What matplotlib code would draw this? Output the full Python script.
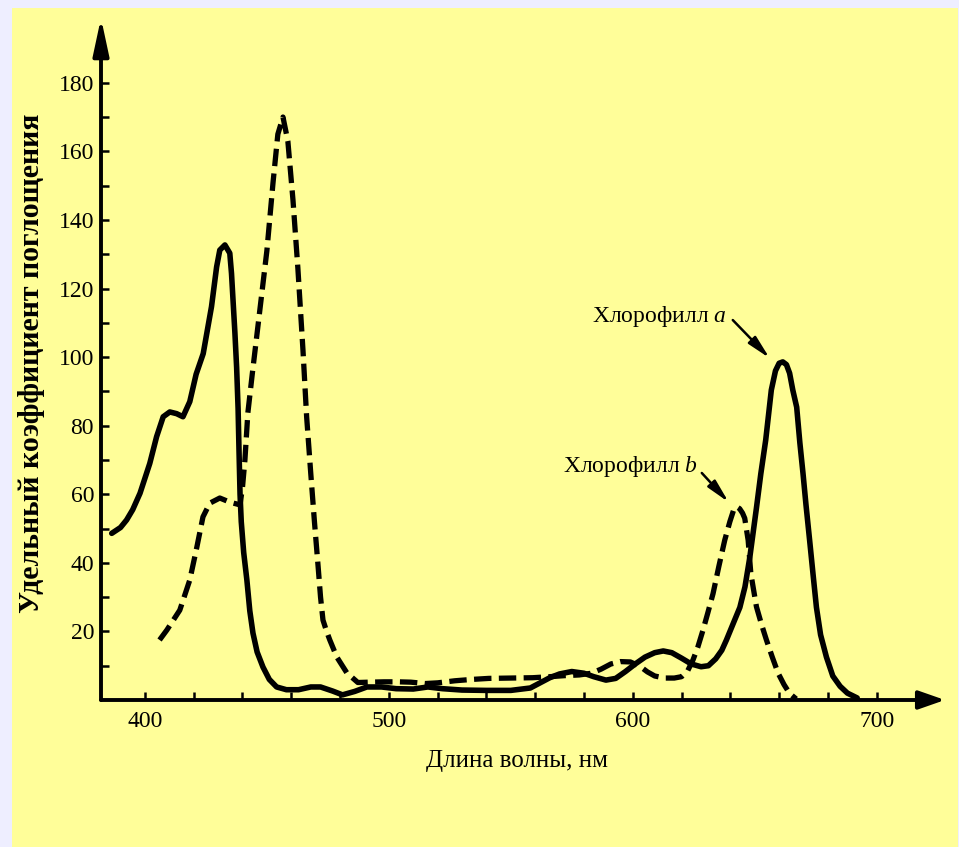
import numpy as np
import matplotlib
matplotlib.use('Agg')
import matplotlib.pyplot as plt
from matplotlib.patches import Rectangle

plt.rcParams['font.family'] = ['Liberation Serif', 'DejaVu Serif']
plt.rcParams['mathtext.fontset'] = 'custom'
plt.rcParams['mathtext.rm'] = 'Liberation Serif'
plt.rcParams['mathtext.it'] = 'Liberation Serif:italic'

# Хлорофилл a (сплошная линия): длина волны, нм / удельный коэффициент
wl_a = [386.4, 390, 392.5, 395, 398, 402, 404.8, 407.5, 410.2, 413, 415.6, 418.4,
        421, 423.9, 427.3, 429.4, 430.7, 432.8, 434.8, 435.5, 436.9, 437.6, 438.2,
        438.6, 439, 439.5, 440.5, 441.8, 443, 444.3, 446, 448.4, 451, 454, 458, 463,
        468, 472, 477, 481, 486, 491, 497, 503, 510, 516, 522, 530, 540, 550,
        558, 562, 566, 570, 575, 580, 584, 589, 593, 597, 601, 605, 609, 612.5,
        616, 620, 624, 628, 631, 634, 636.5, 638.4, 641, 643.9, 646, 648, 650.7,
        652.5, 654.5, 656.8, 658.5, 660, 661.5, 663, 664.3, 665.6, 667.2, 668.5,
        669.8, 671, 672.5, 674, 675.3, 677, 679.4, 682, 685, 688, 692]
abs_a = [48.6, 50.3, 52.5, 55.5, 60.3, 69, 76.8, 82.6, 84, 83.5, 82.6, 87,
         95, 101, 114.7, 126.3, 131.2, 132.7, 130.3, 124.4, 107, 97, 85,
         72, 60, 52, 43, 35, 26, 19.5, 14, 9.6, 6, 3.8, 3, 3,
         3.8, 3.8, 2.6, 1.5, 2.5, 3.8, 3.8, 3.3, 3.2, 3.8, 3.3, 2.9, 2.8, 2.8,
         3.5, 5, 6.5, 7.6, 8.3, 7.8, 6.8, 5.8, 6.3, 8.3, 10.5, 12.5, 13.8, 14.3,
         13.8, 12.2, 10.5, 9.7, 10, 12, 14.5, 17.5, 22, 27, 33, 41.7, 56,
         66, 75.8, 90.4, 96, 98.2, 98.6, 97.8, 95.3, 90.4, 85.4, 75,
         66, 57, 46.6, 36, 27, 19, 12.5, 7, 4, 2, 0.6]

# Хлорофилл b (штриховая линия)
wl_b = [406, 409, 414.3, 418.4, 421.3, 423.8, 426.6, 430.7, 434.8, 439, 440,
        441, 442.2, 444, 446, 448, 450, 452.5, 454.5, 456.6, 458.6, 460.7, 462.7,
        464.8, 466.3, 468, 469.5, 471, 472, 473, 474.5, 475.8, 478.7, 482.8,
        487.3, 492, 498, 504, 509, 515, 520, 527, 534, 541, 550, 559, 566, 572,
        578, 583, 587, 591, 595, 599, 603, 606, 609, 613, 617, 620, 622.5, 624.7,
        626.7, 628.8, 630.8, 632.9, 635.3, 637.7, 639.8, 641.3, 642.5, 643.8,
        645, 645.9, 647.3, 648.4, 650.7, 652.8, 654.8, 657.2, 659.6, 662, 664.3,
        667]
abs_b = [17.5, 20.4, 26.2, 35, 44.6, 53.4, 57.4, 58.9, 57.7, 56.9, 62,
         70, 83.7, 95, 107, 119, 131, 150.7, 165, 170, 163, 145.8, 126,
         102, 82.6, 66, 52, 39, 30, 23.3, 20, 17.5, 12.5, 7.9,
         5.1, 5.2, 5.3, 5.3, 5.2, 4.8, 5, 5.6, 6, 6.3, 6.4, 6.5, 6.8, 7.1,
         7.3, 7.8, 9, 10.5, 11.2, 11.1, 9.8, 8.2, 7, 6.4, 6.4, 6.8, 8.5, 11.7,
         15.5, 20.4, 25.5, 31, 39, 46.6, 52, 55.3, 56.4, 55.8,
         54.5, 53, 46.6, 36.9, 27.2, 22, 17.5, 12.5, 7.8, 4.5, 1.9,
         0.3]

x_major = [400, 500, 600, 700]
x_minor = np.arange(400, 701, 20)
y_major = np.arange(20, 181, 20)
y_minor = np.arange(10, 171, 20)

fig = plt.figure(figsize=(9.59, 8.47), dpi=100, facecolor='#EEEEFF')
# желтый фон
fig.patches.append(Rectangle((12 / 959, 0), 946 / 959, 839 / 847,
                             transform=fig.transFigure, facecolor='#FFFE99',
                             edgecolor='none', zorder=-10))

ax = fig.add_axes([101 / 959, 147 / 847, 844 / 959, 680 / 847])
ax.set_facecolor('none')
ax.set_xlim(382, 728)
ax.set_ylim(0, 198.3)

ax.plot(wl_a, abs_a, color='black', lw=4, solid_joinstyle='round',
        solid_capstyle='round')
ax.plot(wl_b, abs_b, color='black', lw=3.8, linestyle=(0, (3.3, 1.4)))

# оси со стрелками
for s in ax.spines.values():
    s.set_visible(False)
ax.annotate('', xy=(1, 0), xytext=(0, 0), xycoords='axes fraction',
            arrowprops=dict(arrowstyle='-|>,head_length=1.0,head_width=0.35',
                            mutation_scale=16, lw=2.8, color='black',
                            shrinkA=0, shrinkB=0))
ax.annotate('', xy=(0, 1.003), xytext=(0, 0), xycoords='axes fraction',
            arrowprops=dict(arrowstyle='-|>,head_length=1.4,head_width=0.3',
                            mutation_scale=16, lw=2.8, color='black',
                            shrinkA=0, shrinkB=0))

ax.set_xticks(x_major)
ax.set_xticks(x_minor, minor=True)
ax.set_yticks(y_major)
ax.set_yticks(y_minor, minor=True)
ax.tick_params(which='both', direction='in', length=6, width=1.8, color='black')
ax.tick_params(axis='x', pad=8, labelsize=17)
ax.tick_params(axis='y', pad=5, labelsize=17)

fig.text(32 / 959, 1 - 363 / 847, 'Удельный коэффициент поглощения',
         rotation=90, ha='center', va='center', fontsize=21.5, fontweight='bold')
fig.text(517 / 959, 1 - 761 / 847, 'Длина волны, нм',
         ha='center', va='center', fontsize=18)

# подписи кривых
ax.text(638.5, 110.3, 'Хлорофилл $\\mathit{a}$', ha='right', va='baseline',
        fontsize=17)
ax.annotate('', xy=(656.1, 99.7), xytext=(641, 110.8),
            arrowprops=dict(arrowstyle='-|>,head_length=1.0,head_width=0.22',
                            mutation_scale=14, lw=1.8, color='black',
                            shrinkA=0, shrinkB=0))
ax.text(626.6, 66.6, 'Хлорофилл $\\mathit{b}$', ha='right', va='baseline',
        fontsize=17)
ax.annotate('', xy=(639.3, 57.7), xytext=(628.3, 66.2),
            arrowprops=dict(arrowstyle='-|>,head_length=1.0,head_width=0.22',
                            mutation_scale=14, lw=1.8, color='black',
                            shrinkA=0, shrinkB=0))

plt.savefig('out.png', dpi=100, facecolor=fig.get_facecolor())
